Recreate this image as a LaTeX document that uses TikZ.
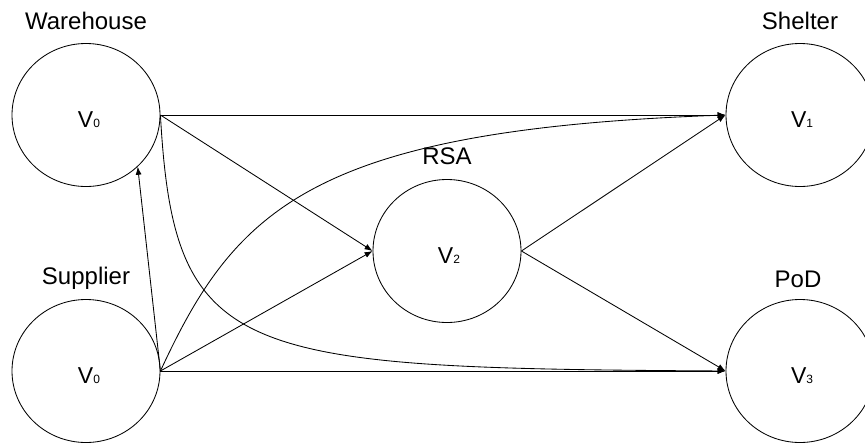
\documentclass[tikz,border=0pt]{standalone}
\usepackage{fontspec}
\setmainfont{Liberation Sans}
\usetikzlibrary{arrows.meta,shapes.geometric}
\newcommand{\vsub}[1]{V{\fontsize{12}{13}\selectfont #1}}
\tikzset{
  place/.style={draw, ellipse, minimum width=148pt, minimum height=143pt, inner sep=0pt, line width=0.85pt},
  vtext/.style={font=\fontsize{23}{26}\selectfont, inner sep=0pt},
  lbl/.style={font=\fontsize{24}{28}\selectfont, inner sep=0pt},
  conn/.style={line width=0.85pt, -{Latex[length=8pt,width=6pt]}}
}
\begin{document}
\begin{tikzpicture}[x=1pt,y=-1pt]
\useasboundingbox (0,0) rectangle (865,445);
\node[place] (wh) at (86,115) {};
\node[place] (su) at (86,371) {};
\node[place] (rsa) at (447,251) {};
\node[place] (sh) at (800,115) {};
\node[place] (pod) at (800,371) {};
\node[vtext] (twh) at (89,120) {\vsub{0}};
\node[vtext] (tsu) at (89,376) {\vsub{0}};
\node[vtext] (trsa) at (449,256) {\vsub{2}};
\node[vtext] (tsh) at (802,120) {\vsub{1}};
\node[vtext] (tpod) at (802,376) {\vsub{3}};
\node[lbl] (lwh) at (86,21) {Warehouse};
\node[lbl] (lsu) at (86,278) {Supplier};
\node[lbl] (lrsa) at (447,156) {RSA};
\node[lbl] (lsh) at (800,21) {Shelter};
\node[lbl] (lpod) at (798,279) {PoD};
% connectors
\draw[conn] (wh.east) -- (sh.west);
\draw[conn] (wh.east) -- (rsa.west);
\draw[conn] (wh.east) .. controls (174,360) and (235,368) .. (pod.west);
\draw[conn] (su.east) .. controls (235,210) and (310,130) .. (sh.west);
\draw[conn] (su.east) -- (rsa.west);
\draw[conn] (su.east) -- (pod.west);
\draw[conn] (su.east) -- (wh.-45);
\draw[conn] (rsa.east) -- (sh.west);
\draw[conn] (rsa.east) -- (pod.west);
\end{tikzpicture}
\end{document}
